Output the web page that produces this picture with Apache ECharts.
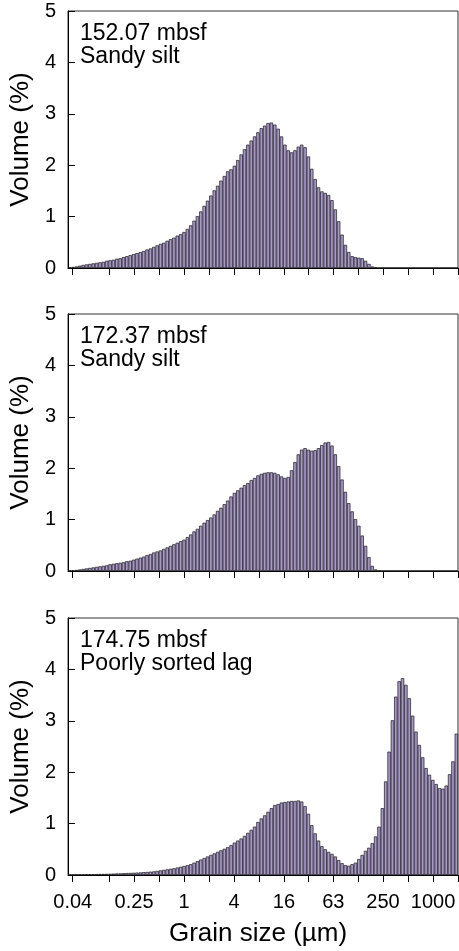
<!DOCTYPE html>
<html>
<head>
<meta charset="utf-8">
<script src="https://cdn.jsdelivr.net/npm/echarts@6/dist/echarts.min.js"></script>
<style>
html,body{margin:0;padding:0;background:#fff;}
#chart{width:459px;height:951px;}
</style>
</head>
<body>
<div id="chart"></div>
<script>
// Instrument bins: 116 log-spaced channels from 0.04 to 2000 µm
const binMin = 0.04;
const binMax = 2000;
const binCount = 116;

// Sample labels
const sampleDepths = ['152.07 mbsf', '172.37 mbsf', '174.75 mbsf'];
const sampleTypes = ['Sandy silt', 'Sandy silt', 'Poorly sorted lag'];

// Volume (%) per channel
const vol15207 = [
  0.01,0.02,0.03,0.045,0.06,0.07,0.08,0.09,0.10,0.11,0.12,0.14,0.15,0.16,0.18,0.19,
  0.21,0.23,0.25,0.27,0.29,0.31,0.33,0.36,0.38,0.41,0.44,0.47,0.49,0.53,0.56,0.59,
  0.63,0.66,0.70,0.76,0.83,0.92,1.01,1.10,1.21,1.31,1.41,1.51,1.60,1.70,1.79,1.88,
  1.92,1.99,2.10,2.21,2.31,2.40,2.48,2.56,2.64,2.72,2.77,2.82,2.83,2.79,2.71,2.56,
  2.40,2.29,2.25,2.29,2.36,2.40,2.35,2.17,1.93,1.73,1.57,1.49,1.46,1.42,1.32,1.14,
  0.91,0.65,0.45,0.31,0.23,0.21,0.20,0.19,0.14,0.08,0.03,0.01,
  0,0,0,0,0,0,0,0,0,0,0,0,0,0,0,0,0,0,0,0,0,0,0,0
];
const vol17237 = [
  0.01,0.015,0.02,0.03,0.04,0.05,0.06,0.07,0.08,0.09,0.10,0.11,0.13,0.14,0.15,0.16,
  0.17,0.19,0.20,0.22,0.24,0.26,0.28,0.31,0.33,0.36,0.38,0.40,0.43,0.46,0.49,0.52,
  0.55,0.58,0.61,0.66,0.71,0.77,0.82,0.88,0.94,0.99,1.04,1.10,1.17,1.23,1.30,1.37,
  1.45,1.52,1.57,1.62,1.67,1.71,1.77,1.81,1.86,1.89,1.91,1.92,1.92,1.91,1.88,1.84,
  1.81,1.83,1.96,2.12,2.27,2.36,2.39,2.36,2.34,2.35,2.39,2.45,2.50,2.51,2.44,2.27,
  2.04,1.78,1.54,1.32,1.16,1.01,0.88,0.69,0.49,0.27,0.10,0.03,0.005,
  0,0,0,0,0,0,0,0,0,0,0,0,0,0,0,0,0,0,0,0,0,0,0
];
const vol17475 = [
  0.005,0.005,0.008,0.01,0.01,0.012,0.015,0.015,0.018,0.02,0.02,0.022,0.025,0.027,0.03,0.032,
  0.035,0.038,0.04,0.043,0.047,0.05,0.055,0.06,0.065,0.07,0.08,0.09,0.10,0.11,0.12,0.13,
  0.145,0.16,0.175,0.19,0.21,0.24,0.27,0.30,0.33,0.36,0.39,0.42,0.45,0.48,0.51,0.54,
  0.58,0.63,0.67,0.71,0.76,0.82,0.88,0.94,1.03,1.10,1.16,1.23,1.30,1.36,1.38,1.41,
  1.42,1.43,1.44,1.44,1.45,1.43,1.34,1.19,0.97,0.81,0.67,0.56,0.50,0.45,0.41,0.36,
  0.29,0.23,0.19,0.18,0.21,0.24,0.31,0.39,0.47,0.53,0.62,0.75,0.94,1.30,1.82,2.40,
  3.01,3.47,3.77,3.83,3.70,3.44,3.10,2.79,2.53,2.29,2.08,1.95,1.85,1.77,1.69,1.68,
  1.74,1.96,2.21,2.75
];

// Grain-size axis ticks (µm) and labels
const xTickMicrons = [0.0456, 0.125, 0.25, 0.5, 1, 2, 4, 8, 16, 31.5, 63, 125, 250, 500, 1000, 2000];
const xLabelMicrons = [0.0456, 0.25, 1, 4, 16, 63, 250, 1000];
const xLabelTexts = ['0.04', '0.25', '1', '4', '16', '63', '250', '1000'];

const panels = [vol15207, vol17237, vol17475];

const FONT = 'Liberation Sans, Arial, Helvetica, sans-serif';
const step = Math.log2(binMax / binMin) / binCount;
const binCenters = [];
for (let i = 0; i < binCount; i++) {
  binCenters.push((binMin * Math.pow(2, (i + 0.5) * step)).toPrecision(4));
}
const lmin = Math.log2(binMin), lmax = Math.log2(binMax);
const tickLog = xTickMicrons.map(v => Math.log2(v));
const labelLog = xLabelMicrons.map(v => Math.log2(v));

const gridTops = [11, 314, 618];
const gridH = 257;

const grids = [], xAxes = [], yAxes = [], series = [], titles = [];
panels.forEach((vals, g) => {
  grids.push({left: 67, width: 391, top: gridTops[g], height: gridH,
    show: true, borderColor: '#333', borderWidth: 1, backgroundColor: 'transparent', containLabel: false});
  xAxes.push({gridIndex: g, type: 'category', data: binCenters, show: false, boundaryGap: true});
  xAxes.push({
    gridIndex: g, type: 'value', min: lmin, max: lmax, position: 'bottom',
    axisLine: {show: true, onZero: false, lineStyle: {color: '#000', width: 1}},
    axisTick: {show: true, inside: false, length: 7, customValues: tickLog, lineStyle: {color: '#000', width: 1}},
    axisLabel: {show: g === 2, customValues: labelLog, fontSize: 20, margin: 17, color: '#000', fontFamily: FONT,
      formatter: function (v) {
        let best = 0, bd = 1e9;
        labelLog.forEach((l, k) => { const d = Math.abs(l - v); if (d < bd) { bd = d; best = k; } });
        return xLabelTexts[best];
      }},
    splitLine: {show: false},
    name: g === 2 ? 'Grain size (µm)' : '',
    nameLocation: 'middle', nameGap: 46,
    nameTextStyle: {fontSize: 26, color: '#000', fontFamily: FONT, padding: [0, 10, 0, 0]}
  });
  yAxes.push({
    gridIndex: g, type: 'value', min: 0, max: 5, interval: 1, position: 'left',
    axisLine: {show: true, onZero: false, lineStyle: {color: '#000', width: 1}},
    axisTick: {show: true, inside: true, length: 7, lineStyle: {color: '#000', width: 1}},
    axisLabel: {fontSize: 20, margin: 12, color: '#000', fontFamily: FONT},
    splitLine: {show: false},
    name: 'Volume (%)', nameLocation: 'middle', nameGap: 27,
    nameTextStyle: {fontSize: 26, color: '#000', fontFamily: FONT}
  });
  series.push({
    type: 'bar', xAxisIndex: 2 * g, yAxisIndex: g, data: vals,
    barCategoryGap: '0%', barGap: '0%', silent: true,
    itemStyle: {color: '#a898cc', borderColor: '#1a1a1a', borderWidth: 0.7}
  });
  titles.push({
    text: sampleDepths[g] + '\n' + sampleTypes[g],
    left: 80, top: gridTops[g] + 11,
    textStyle: {fontSize: 23, lineHeight: 23, fontWeight: 'normal', color: '#000', fontFamily: FONT},
    padding: 0
  });
});

const chart = echarts.init(document.getElementById('chart'), null, {renderer: 'canvas'});
chart.setOption({
  animation: false,
  backgroundColor: '#fff',
  title: titles,
  grid: grids,
  xAxis: xAxes,
  yAxis: yAxes,
  series: series
});
</script>
</body>
</html>
